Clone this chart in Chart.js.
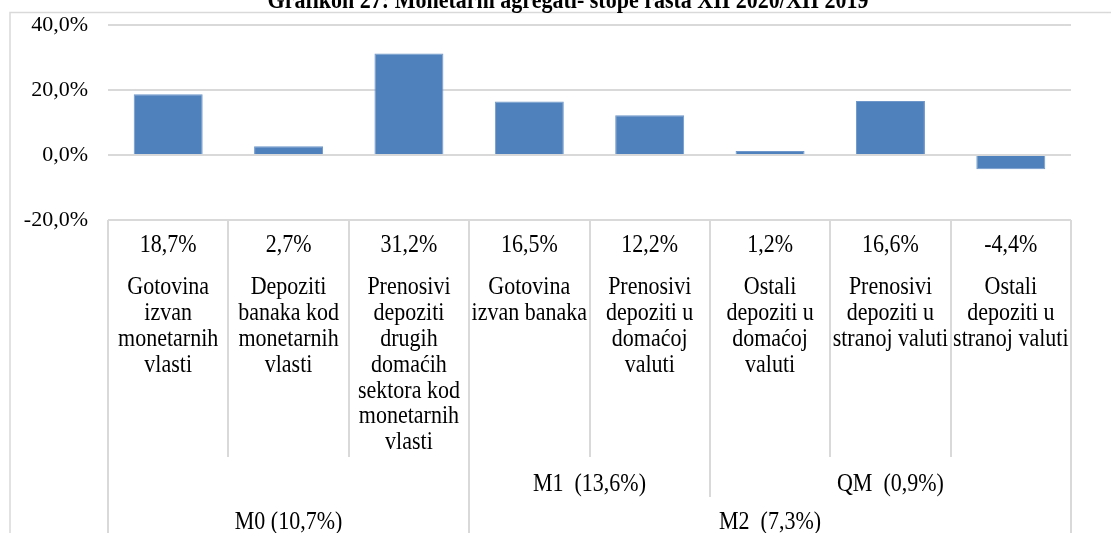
<!DOCTYPE html>
<html>
<head>
<meta charset="utf-8">
<script src="https://cdn.jsdelivr.net/npm/chart.js@4"></script>
<style>
html,body{margin:0;padding:0;background:#fff;}
#wrap{width:1111px;height:533px;position:relative;}
</style>
</head>
<body>
<div id="wrap"><canvas id="c" width="1111" height="533"></canvas></div>
<script>
const titleText = 'Grafikon 27: Monetarni agregati- stope rasta XII 2020/XII 2019';
const categories = [
  ['Gotovina', 'izvan', 'monetarnih', 'vlasti'],
  ['Depoziti', 'banaka kod', 'monetarnih', 'vlasti'],
  ['Prenosivi', 'depoziti', 'drugih', 'domaćih', 'sektora kod', 'monetarnih', 'vlasti'],
  ['Gotovina', 'izvan banaka'],
  ['Prenosivi', 'depoziti u', 'domaćoj', 'valuti'],
  ['Ostali', 'depoziti u', 'domaćoj', 'valuti'],
  ['Prenosivi', 'depoziti u', 'stranoj valuti'],
  ['Ostali', 'depoziti u', 'stranoj valuti']
];
const values = [18.7, 2.7, 31.2, 16.5, 12.2, 1.2, 16.6, -4.4];
const yTicks = [-20, 0, 20, 40];
// group levels: [label, firstIndex, lastIndex]
const groupLevel1 = [['M1  (13,6%)', 3, 4], ['QM  (0,9%)', 5, 7]];
const groupLevel2 = [['M0 (10,7%)', 0, 2], ['M2  (7,3%)', 3, 7]];

const FONT = '"Liberation Serif", "Times New Roman", serif';
const GRID = '#d9d9d9';
const fmt = v => v.toFixed(1).replace('.', ',') + '%';

function stretchText(ctx, txt, cx, cy, sy) {
  ctx.save();
  ctx.translate(cx, cy);
  ctx.scale(1, sy);
  ctx.fillText(txt, 0, 0);
  ctx.restore();
}

const tablePlugin = {
  id: 'tablePlugin',
  afterDraw(chart) {
    const ctx = chart.ctx;
    const x = chart.scales.x;
    const area = chart.chartArea;
    const n = categories.length;
    const w = (x.right - x.left) / n;
    const edge = i => x.getPixelForValue(i) - w / 2; // left edge of category i
    const top = area.bottom;
    const row1Bottom = 457, row2Bottom = 497, bottom = 533;
    ctx.save();
    // outer border
    ctx.strokeStyle = GRID;
    ctx.lineWidth = 1.5;
    ctx.beginPath();
    ctx.moveTo(10, 533); ctx.lineTo(10, 12.5); ctx.lineTo(1111, 12.5);
    ctx.stroke();
    ctx.lineWidth = 2;
    ctx.beginPath();
    ctx.moveTo(x.left, top); ctx.lineTo(x.right, top);
    for (let i = 0; i <= n; i++) {
      const px = Math.round(edge(i));
      ctx.moveTo(px, top); ctx.lineTo(px, row1Bottom);
    }
    ctx.moveTo(x.left, row1Bottom); ctx.lineTo(x.left, row2Bottom);
    groupLevel1.forEach(g => {
      const a = Math.round(edge(g[1])), b = Math.round(edge(g[2] + 1));
      ctx.moveTo(a, row1Bottom); ctx.lineTo(a, row2Bottom);
      ctx.moveTo(b, row1Bottom); ctx.lineTo(b, row2Bottom);
    });
    groupLevel2.forEach(g => {
      const a = Math.round(edge(g[1])), b = Math.round(edge(g[2] + 1));
      ctx.moveTo(a, row2Bottom); ctx.lineTo(a, bottom);
      ctx.moveTo(b, row2Bottom); ctx.lineTo(b, bottom);
    });
    ctx.stroke();

    // texts
    const SY = 1.12;
    ctx.fillStyle = '#000';
    ctx.font = '22px ' + FONT;
    ctx.textAlign = 'center';
    ctx.textBaseline = 'middle';
    for (let i = 0; i < n; i++) {
      const cx = x.getPixelForValue(i);
      stretchText(ctx, fmt(values[i]), cx, 246, SY);
      categories[i].forEach((line, k) => stretchText(ctx, line, cx, 288 + k * 25.8, SY));
    }
    groupLevel1.forEach(g => {
      const cx = (edge(g[1]) + edge(g[2] + 1)) / 2;
      stretchText(ctx, g[0], cx, 485, SY);
    });
    groupLevel2.forEach(g => {
      const cx = (edge(g[1]) + edge(g[2] + 1)) / 2;
      stretchText(ctx, g[0], cx, 523, SY);
    });
    // title
    ctx.font = 'bold 22px ' + FONT;
    ctx.textBaseline = 'alphabetic';
    stretchText(ctx, titleText, 568, 8, SY);
    ctx.restore();
  }
};

new Chart(document.getElementById('c'), {
  type: 'bar',
  data: {
    labels: categories.map(c => c.join(' ')),
    datasets: [{
      data: values,
      backgroundColor: '#4F81BD',
      borderColor: '#6f97c9',
      borderWidth: 1,
      barPercentage: 0.573,
      categoryPercentage: 1.0
    }]
  },
  options: {
    responsive: false,
    animation: false,
    events: [],
    layout: { padding: { left: 0, right: 40, top: 25, bottom: 313 } },
    plugins: { legend: { display: false }, tooltip: { enabled: false }, title: { display: false } },
    scales: {
      x: { display: false },
      y: {
        min: -20, max: 40,
        afterFit(scale) { scale.width = 108; },
        afterBuildTicks(scale) { scale.ticks = yTicks.map(v => ({ value: v })); },
        ticks: {
          padding: 0,
          color: '#000',
          font: { family: FONT, size: 22 },
          callback: v => fmt(v)
        },
        grid: { color: GRID, lineWidth: 2, drawTicks: true, tickLength: 20, tickColor: 'rgba(0,0,0,0)' },
        border: { display: false }
      }
    }
  },
  plugins: [tablePlugin]
});
</script>
</body>
</html>
